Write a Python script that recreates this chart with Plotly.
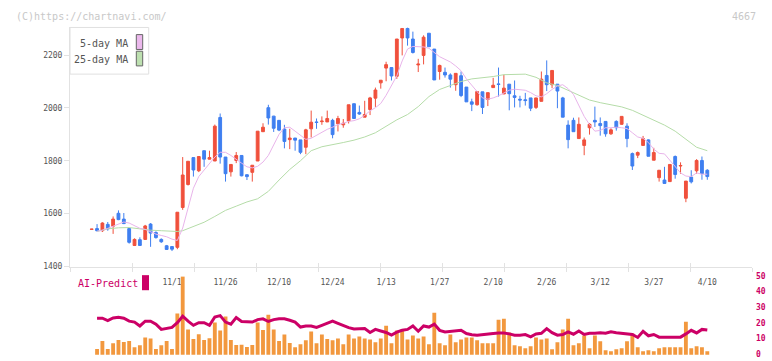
import plotly.graph_objects as go

# ---------------- data ----------------
opens = [1540,1543,1535,1559,1552,1601,1579,1543,1479,1501,
         1502,1560,1528,1502,1478,1475,1472,1623,1710,1812,
         1762,1838,1806,1799,1964,1814,1758,1801,1820,1747,
         1756,1799,1910,2001,1969,1953,1920,1880,1886,1879,
         1851,1921,1947,1948,1947,1953,1940,1936,1951,2016,
         1983,1965,1994,2037,2095,2151,2153,2120,2265,2301,
         2261,2163,2199,2283,2223,2138,2135,2125,2088,2122,
         2079,2023,2012,2061,2032,2077,2091,2053,2090,2046,
         2033,2031,2038,2002,2025,2123,2088,2090,2038,1935,
         1953,1884,1858,1925,1953,1941,1949,1902,1949,1938,
         1931,1827,1821,1858,1879,1802,1736,1727,1721,1816,
         1780,1658,1738,1762,1801,1764]
highs = [1541,1560,1567,1568,1589,1612,1602,1546,1506,1510,
         1557,1564,1533,1506,1481,1475,1605,1814,1798,1812,
         1816,1838,1838,1937,1979,1814,1786,1833,1820,1749,
         1783,1912,1942,2012,1970,1953,1936,1921,1886,1879,
         1921,1990,1960,1968,1990,1959,1970,1958,2012,2016,
         2009,2027,2042,2077,2105,2175,2153,2261,2301,2305,
         2289,2186,2275,2283,2223,2164,2153,2131,2131,2138,
         2079,2035,2064,2061,2058,2114,2153,2126,2090,2104,
         2046,2057,2038,2038,2138,2180,2142,2090,2042,1953,
         1963,1964,1888,1943,2005,1964,1949,1923,1953,1968,
         1942,1831,1835,1894,1881,1849,1764,1777,1786,1820,
         1794,1723,1764,1806,1816,1768]
lows = [1540,1532,1530,1535,1523,1575,1560,1486,1477,1479,
        1500,1474,1505,1489,1462,1458,1465,1614,1706,1740,
        1757,1777,1805,1799,1789,1721,1740,1791,1741,1727,
        1721,1799,1909,1937,1909,1912,1847,1844,1838,1825,
        1825,1888,1921,1936,1947,1885,1911,1925,1941,1958,
        1974,1965,1973,2004,2073,2101,2104,2110,2199,2236,
        2206,2136,2165,2232,2106,2107,2115,2077,2065,2041,
        2023,1988,2009,1977,2007,2077,2043,2053,1991,2002,
        2002,2009,1988,1996,2025,2064,2075,1999,1965,1847,
        1910,1884,1821,1899,1928,1895,1891,1898,1914,1937,
        1851,1765,1810,1858,1817,1802,1721,1714,1721,1732,
        1751,1643,1714,1751,1728,1728]
closes = [1541,1535,1564,1542,1579,1577,1562,1491,1502,1479,
          1553,1526,1509,1493,1464,1465,1605,1746,1798,1765,
          1816,1806,1812,1931,1814,1751,1786,1820,1743,1740,
          1783,1912,1927,1962,1923,1916,1873,1886,1878,1832,
          1917,1946,1945,1950,1960,1899,1960,1942,2012,1960,
          1977,1975,2038,2068,2105,2164,2121,2261,2301,2265,
          2210,2166,2268,2232,2106,2161,2125,2109,2131,2047,
          2023,2014,2062,2002,2058,2086,2089,2075,2054,2040,
          2030,2028,1999,2038,2109,2088,2142,2064,1965,1880,
          1910,1938,1879,1938,1947,1933,1902,1917,1925,1968,
          1884,1780,1831,1884,1817,1831,1764,1714,1786,1748,
          1782,1723,1720,1801,1751,1740]

ma5 = [None,1533,1537,1544,1552,1562,1568,1564,1554,1544,
       1540,1530,1522,1517,1512,1503,1498,1545,1622,1696,
       1740,1764,1789,1814,1832,1832,1820,1804,1791,1777,
       1773,1779,1795,1820,1863,1900,1925,1927,1912,1898,
       1881,1885,1897,1909,1919,1927,1937,1942,1949,1952,
       1959,1972,1989,2001,2017,2048,2085,2122,2178,2223,
       2233,2233,2231,2226,2209,2194,2184,2174,2159,2141,
       2110,2085,2061,2038,2033,2038,2046,2058,2067,2071,
       2069,2067,2058,2046,2042,2054,2070,2083,2088,2073,
       2051,2011,1968,1937,1912,1915,1925,1925,1927,1925,
       1922,1906,1890,1885,1869,1844,1828,1826,1801,1777,
       1754,1742,1740,1754,1749,1749]

ma25_idx = [1,3,5,7,9,11,13,15,16,17,19,21,23,25,27,29,31,33,35,37,39,
            41,43,45,47,49,51,53,55,57,59,61,63,65,67,69,71,73,75,77,79,
            81,83,85,87,89,91,93,95,97,99,101,103,105,107,109,111,113,115]
ma25_val = [1532,1542,1546,1547,1542,1537,1535,1533,1532,1535,1551,1567,
            1589,1612,1628,1644,1656,1684,1727,1767,1800,
            1838,1853,1860,1869,1878,1890,1906,1931,1955,1975,2005,2043,
            2070,2085,2100,2110,2114,2119,2126,2128,
            2128,2116,2095,2085,2067,2046,2030,2020,2011,2004,1991,1972,
            1952,1935,1912,1881,1851,1838]

volume = [None,60,140,60,117,150,130,140,77,97,
          177,167,60,97,140,60,423,800,257,160,
          210,150,170,330,247,390,150,100,103,80,
          100,330,253,410,257,140,207,120,77,107,
          147,237,117,207,160,147,167,107,207,167,
          187,167,157,127,167,297,117,247,257,157,
          197,167,187,107,430,117,97,207,127,157,
          177,177,147,117,117,117,357,367,227,97,
          87,67,87,177,157,167,57,127,257,367,
          97,117,197,67,197,137,47,37,57,67,
          137,217,77,37,47,37,67,77,77,77,
          77,337,67,87,77,37]

ai_predict = [None,22.9,22.9,21.4,23.1,23.5,22.9,21.0,20.4,17.9,
              21.0,21.0,19.1,15.7,16.2,17.0,20.0,24.2,21.0,18.3,
              20.0,20.0,18.3,23.7,24.6,20.4,19.1,23.3,20.8,20.4,
              20.4,22.0,22.5,20.8,22.0,22.5,22.5,21.6,20.4,17.2,
              17.9,17.9,17.0,18.3,19.8,21.0,19.6,18.1,16.8,16.0,
              16.0,16.2,13.7,15.7,14.7,13.7,12.0,13.9,15.1,15.7,
              17.9,14.5,17.9,17.2,19.1,15.1,14.1,14.3,14.7,15.1,
              13.0,12.2,12.0,12.2,12.6,13.0,13.4,13.4,12.8,12.0,
              12.0,12.4,10.9,12.8,13.2,16.2,13.6,12.0,12.4,14.1,
              12.6,14.7,12.4,13.2,13.2,13.6,13.2,14.1,13.6,13.2,
              13.2,12.4,10.5,14.5,11.6,12.4,10.7,10.7,10.7,10.7,
              10.7,12.8,15.1,13.4,15.7,15.3]

date_label_idx = [15,25,35,45,55,65,75,85,95,105,115]
date_labels = ["11/1","11/26","12/10","12/24","1/13","1/27","2/10","2/26","3/12","3/27","4/10"]

price_ticks = [1400,1600,1800,2000,2200]
ai_ticks = [0,10,20,30,40,50]

# ---------------- layout helpers ----------------
W, H = 772, 361
def px(x):
    return x / W
def py(y):
    return 1 - y / H

idx = list(range(len(opens)))
X_RANGE = [-4.054, 123.35]
grid_ticks = [X_RANGE[0] + k * (X_RANGE[1] - X_RANGE[0]) / 11 for k in range(12)]
XDOM = [px(70), px(752)]

MONO = "DejaVu Sans Mono"
AXC = "#e2e2e2"
RED = "#f0503c"
BLUE = "#3f7ff0"
CRIMSON = "#cc0066"
ORANGE = "#f2983e"

fig = go.Figure()

fig.add_trace(go.Candlestick(
    x=idx, open=opens, high=highs, low=lows, close=closes,
    increasing=dict(line=dict(color=RED, width=1), fillcolor=RED),
    decreasing=dict(line=dict(color=BLUE, width=1), fillcolor=BLUE),
    whiskerwidth=0, xaxis="x", yaxis="y", hoverinfo="skip", showlegend=False))

fig.add_trace(go.Scatter(x=ma25_idx, y=ma25_val, mode="lines",
                         line=dict(color="#b5dca8", width=1),
                         xaxis="x", yaxis="y", hoverinfo="skip", showlegend=False))
fig.add_trace(go.Scatter(x=idx, y=ma5, mode="lines",
                         line=dict(color="#e8b4ea", width=1),
                         xaxis="x", yaxis="y", hoverinfo="skip", showlegend=False))

fig.add_trace(go.Bar(x=idx, y=volume, width=0.72, marker=dict(color=ORANGE, line=dict(width=0)),
                     xaxis="x2", yaxis="y2", hoverinfo="skip", showlegend=False))
fig.add_trace(go.Scatter(x=idx, y=ai_predict, mode="lines",
                         line=dict(color=CRIMSON, width=3),
                         xaxis="x2", yaxis="y3", hoverinfo="skip", showlegend=False))

fig.update_layout(
    width=W, height=H, margin=dict(l=0, r=0, t=0, b=0),
    paper_bgcolor="white", plot_bgcolor="white",
    showlegend=False, boxgap=0.25,
    font=dict(family=MONO, size=8, color="#555555"),
    xaxis=dict(domain=XDOM, range=X_RANGE, anchor="y", showline=True, linecolor=AXC,
               linewidth=1, ticks="inside", ticklen=4, tickcolor=AXC, tickvals=grid_ticks,
               showticklabels=False, showgrid=False, zeroline=False,
               rangeslider=dict(visible=False), fixedrange=True),
    xaxis3=dict(overlaying="x", anchor="free", position=py(269), range=X_RANGE,
                ticks="outside", ticklen=4, tickcolor=AXC, tickvals=grid_ticks,
                showticklabels=False, showline=False, showgrid=False, zeroline=False),
    xaxis4=dict(overlaying="x", anchor="free", position=py(269), range=X_RANGE,
                ticks="", tickvals=date_label_idx, ticktext=date_labels,
                ticklabelstandoff=9, tickfont=dict(family=MONO, size=8, color="#555555"),
                showline=False, showgrid=False, zeroline=False),
    yaxis=dict(domain=[py(269), py(24)], range=[1397.4, 2304.8], anchor="x",
               showline=True, linecolor=AXC, linewidth=1, ticks="outside", ticklen=5,
               tickcolor=AXC, tickvals=price_ticks,
               tickfont=dict(family=MONO, size=8, color="#555555"),
               showgrid=False, zeroline=False),
    xaxis2=dict(domain=XDOM, range=X_RANGE, anchor="y2", visible=False),
    yaxis2=dict(domain=[0, py(278.3)], range=[-23, 804], anchor="x2", visible=False),
    yaxis3=dict(overlaying="y2", range=[-2.08, 50], anchor="x2", side="right",
                tickvals=ai_ticks, ticks="", showline=False, showgrid=False, zeroline=False,
                ticklabelstandoff=3,
                tickfont=dict(family=MONO, size=8, color=CRIMSON, weight="bold")),
)

# dummy traces so the overlay axes exist
fig.add_trace(go.Scatter(x=[None], y=[None], xaxis="x3", yaxis="y", showlegend=False, hoverinfo="skip"))
fig.add_trace(go.Scatter(x=[None], y=[None], xaxis="x4", yaxis="y", showlegend=False, hoverinfo="skip"))

# legend box (text left, swatch right)
shapes = [
    dict(type="rect", xref="paper", yref="paper", x0=px(70), x1=px(148.7), y0=py(71.7), y1=py(24),
         line=dict(color="#e0e0e0", width=1), fillcolor="white", layer="above"),
    dict(type="rect", xref="paper", yref="paper", x0=px(136.3), x1=px(142.7), y0=py(46.5), y1=py(31.3),
         line=dict(color="#666666", width=1), fillcolor="#ebb8ec", layer="above"),
    dict(type="rect", xref="paper", yref="paper", x0=px(136.3), x1=px(142.7), y0=py(63.3), y1=py(48.3),
         line=dict(color="#666666", width=1), fillcolor="#bde0b0", layer="above"),
    dict(type="rect", xref="paper", yref="paper", x0=px(142), x1=px(149), y0=py(292.7), y1=py(277.3),
         line=dict(width=0), fillcolor=CRIMSON, layer="above"),
]
annotations = [
    dict(text="5-day MA", x=px(129.8), y=py(40.7), xref="paper", yref="paper", xanchor="right",
         yanchor="middle", showarrow=False, font=dict(family=MONO, size=10, color="#555555")),
    dict(text="25-day MA", x=px(129.8), y=py(56.7), xref="paper", yref="paper", xanchor="right",
         yanchor="middle", showarrow=False, font=dict(family=MONO, size=10, color="#555555")),
    dict(text="(C)https://chartnavi.com/", x=px(13.5), y=py(12.3), xref="paper", yref="paper",
         xanchor="left", yanchor="middle", showarrow=False,
         font=dict(family=MONO, size=10, color="#c8c8c8")),
    dict(text="4667", x=px(757.5), y=py(12.3), xref="paper", yref="paper",
         xanchor="right", yanchor="middle", showarrow=False,
         font=dict(family=MONO, size=10, color="#c8c8c8")),
    dict(text="AI-Predict", x=px(75.5), y=py(286), xref="paper", yref="paper",
         xanchor="left", yanchor="middle", showarrow=False,
         font=dict(family=MONO, size=10, color=CRIMSON)),
]
fig.update_layout(shapes=shapes, annotations=annotations)

fig.write_html("out.html", config={"displayModeBar": False, "staticPlot": True},
               post_script="document.body.style.margin='0';document.body.style.overflow='hidden';")
